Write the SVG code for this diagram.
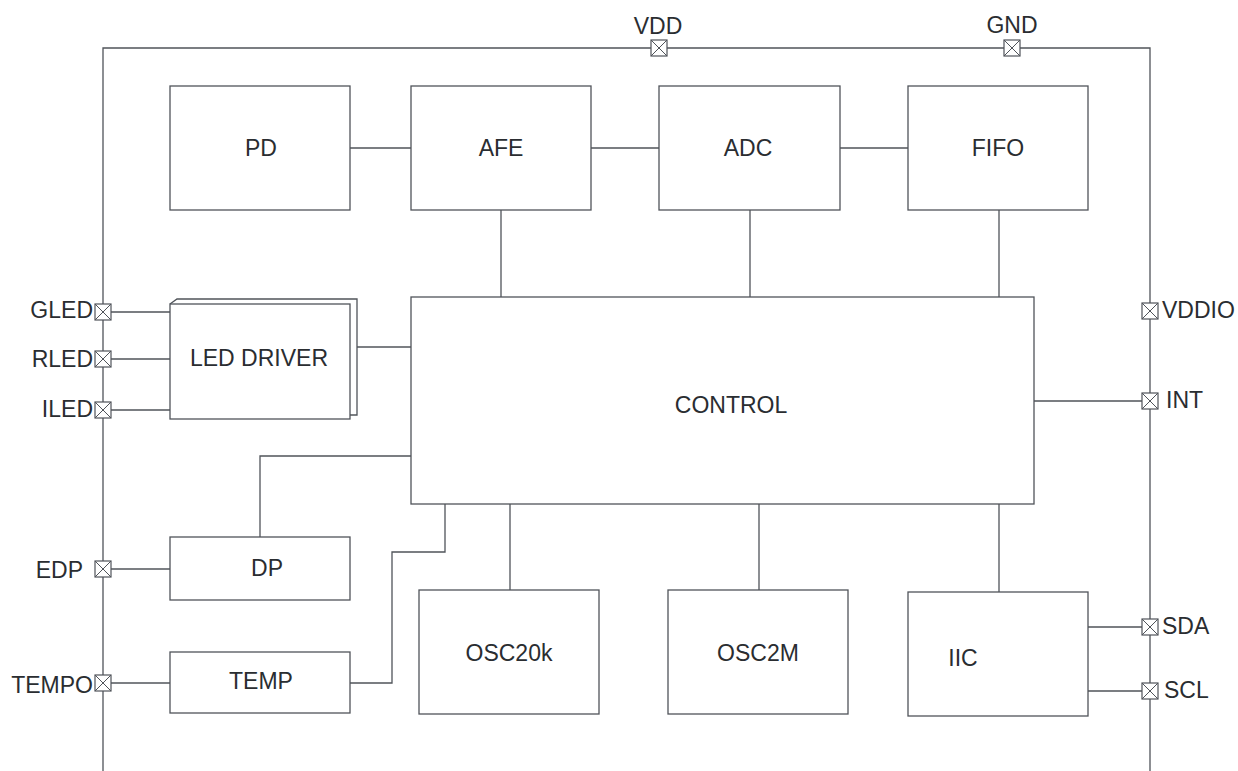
<svg xmlns="http://www.w3.org/2000/svg" width="1238" height="771" viewBox="0 0 1238 771">
<defs>
<style>
.b{fill:#fff;stroke:#50545a;stroke-width:1.3}
.l{fill:none;stroke:#50545a;stroke-width:1.3}
.t{font-family:"Liberation Sans",Arial,sans-serif;font-size:23px;fill:#2a2d31}
.m{text-anchor:middle}
.e{text-anchor:end}
</style>
<g id="pin">
<rect x="-8" y="-8" width="16" height="16" fill="#fff" stroke="#50545a" stroke-width="1.2"/>
<path d="M-8-8L8 8M8-8L-8 8" stroke="#50545a" stroke-width="1"/>
</g>
</defs>
<rect width="1238" height="771" fill="#fff"/>
<g id="frame">
<path class="l" d="M103 771V48H1150V771"/>
</g>
<g id="connectors">
<path class="l" d="M350 148H411M591 148H659M840 148H908"/>
<path class="l" d="M501 210V297M750 210V297M999 210V297"/>
<path class="l" d="M357 347H411"/>
<path class="l" d="M103 312H170M103 359H170M103 410H170"/>
<path class="l" d="M260 537V456H411"/>
<path class="l" d="M103 569H170"/>
<path class="l" d="M103 683H170"/>
<path class="l" d="M350 683H392V552H445V504"/>
<path class="l" d="M510 504V590M759 504V590M999 504V592"/>
<path class="l" d="M1034 401H1150M1088 627H1150M1088 691H1150"/>
</g>
<g id="PD"><rect class="b" x="170" y="86" width="180" height="124"/><text class="t m" x="261" y="156">PD</text></g>
<g id="AFE"><rect class="b" x="411" y="86" width="180" height="124"/><text class="t m" x="501" y="156">AFE</text></g>
<g id="ADC"><rect class="b" x="659" y="86" width="181" height="124"/><text class="t m" x="748" y="156">ADC</text></g>
<g id="FIFO"><rect class="b" x="908" y="86" width="180" height="124"/><text class="t m" x="998" y="156">FIFO</text></g>
<g id="CONTROL"><rect class="b" x="411" y="297" width="623" height="207"/><text class="t m" x="731" y="413">CONTROL</text></g>
<g id="LED_DRIVER">
<path class="l" d="M170 304L177 299H357V415H350"/>
<rect class="b" x="170" y="304" width="180" height="115"/>
<text class="t m" x="259" y="366">LED DRIVER</text>
</g>
<g id="DP"><rect class="b" x="170" y="537" width="180" height="63"/><text class="t m" x="267" y="576">DP</text></g>
<g id="TEMP"><rect class="b" x="170" y="652" width="180" height="61"/><text class="t m" x="261" y="689">TEMP</text></g>
<g id="OSC20k"><rect class="b" x="419" y="590" width="180" height="124"/><text class="t m" x="509" y="661">OSC20k</text></g>
<g id="OSC2M"><rect class="b" x="668" y="590" width="180" height="124"/><text class="t m" x="758" y="661">OSC2M</text></g>
<g id="IIC"><rect class="b" x="908" y="592" width="180" height="124"/><text class="t m" x="963" y="666">IIC</text></g>
<g id="pins">
<use href="#pin" x="659" y="48"/><text class="t m" x="658" y="34">VDD</text>
<use href="#pin" x="1012" y="48"/><text class="t m" x="1012" y="33">GND</text>
<use href="#pin" x="103" y="312"/><text class="t e" x="93" y="318">GLED</text>
<use href="#pin" x="103" y="359"/><text class="t e" x="93" y="367">RLED</text>
<use href="#pin" x="103" y="410"/><text class="t e" x="93" y="417">ILED</text>
<use href="#pin" x="103" y="569"/><text class="t e" x="83" y="578">EDP</text>
<use href="#pin" x="103" y="683"/><text class="t e" x="93" y="693">TEMPO</text>
<use href="#pin" x="1150" y="311"/><text class="t" x="1162" y="318">VDDIO</text>
<use href="#pin" x="1150" y="401"/><text class="t" x="1166" y="408">INT</text>
<use href="#pin" x="1150" y="627"/><text class="t" x="1162" y="634">SDA</text>
<use href="#pin" x="1150" y="691"/><text class="t" x="1164" y="698">SCL</text>
</g>
</svg>
